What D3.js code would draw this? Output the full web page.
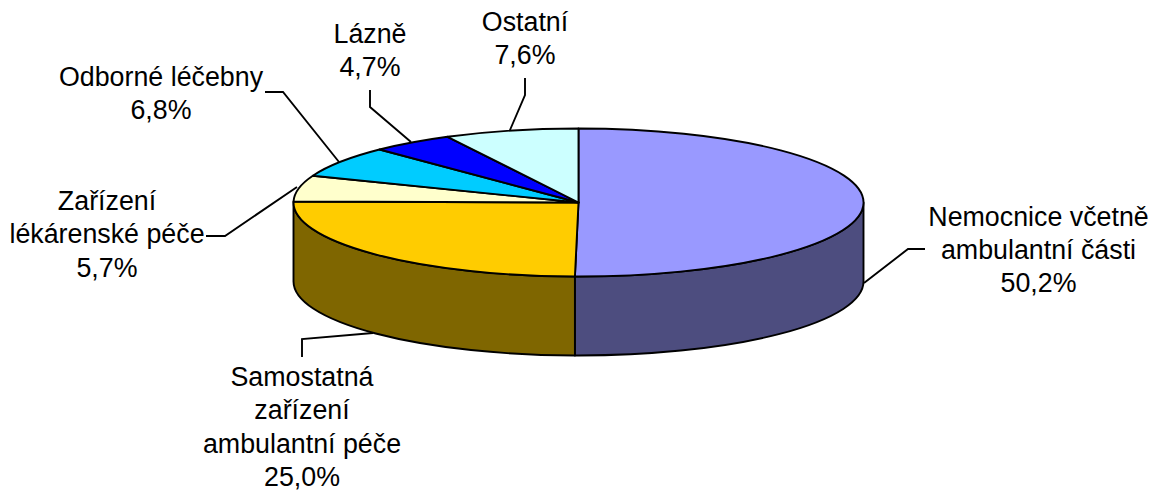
<!DOCTYPE html>
<html>
<head>
<meta charset="utf-8">
<script src="https://cdn.jsdelivr.net/npm/d3@7"></script>
<style>
    html, body { margin: 0; padding: 0; background: #fff; }
    svg { display: block; }
    text { font-family: "Liberation Sans", Arial, sans-serif; font-size: 26.8px; fill: #000; text-anchor: middle; }
</style>
</head>
<body>
<svg id="chart" width="1157" height="490"></svg>
<script>
const categories = [
    ["Nemocnice včetně", "ambulantní části"],
    ["Samostatná", "zařízení", "ambulantní péče"],
    ["Zařízení", "lékárenské péče"],
    ["Odborné léčebny"],
    ["Lázně"],
    ["Ostatní"]
]
const shares = [50.2, 25.0, 5.7, 6.8, 4.7, 7.6]
const shareLabels = ["50,2%", "25,0%", "5,7%", "6,8%", "4,7%", "7,6%"]
const topColors = ["#9999ff", "#ffcc00", "#ffffcc", "#00ccff", "#0000ff", "#ccffff"]
const sideColors = ["#4d4d7f", "#7f6600", "#7f7f66", "#00667f", "#00007f", "#667f7f"]

const cx = 578.5, cy = 202.5, rx = 285, ry = 74, depth = 79, lineGap = 33.3

// label block centre + first baseline, and the leader polyline for each slice
const labelPos = [
    {x: 1038.5, y: 225.5}, {x: 302, y: 386}, {x: 107, y: 210},
    {x: 161, y: 85.5}, {x: 370, y: 43}, {x: 525, y: 31}
]
const leaders = [
    [[864, 283], [908, 249], [925, 249]],
    [[373, 333], [302, 339], [302, 357]],
    [[297, 187], [225, 236], [206, 236]],
    [[339, 162], [283, 92], [265, 92]],
    [[411, 142], [370, 107], [370, 90]],
    [[510, 130], [525, 95], [525, 78]]
]

const svg = d3.select("#chart")

const slices = d3.pie().sort(null).value(d => d)(shares)
const arc = d3.arc().innerRadius(0).outerRadius(rx)
const pointAt = angle => [cx + rx * Math.sin(angle), cy - ry * Math.cos(angle)]

// Side wall, only the part facing the viewer (90deg to 270deg)
function wallPath(slice) {
    let a0 = Math.max(slice.startAngle, Math.PI / 2),
        a1 = Math.min(slice.endAngle, Math.PI * 1.5)
    if (a0 >= a1) return null
    let p0 = pointAt(a0), p1 = pointAt(a1)
    return `M${p0[0]},${p0[1]}`
        + `A${rx},${ry} 0 0 1 ${p1[0]},${p1[1]}`
        + `L${p1[0]},${p1[1] + depth}`
        + `A${rx},${ry} 0 0 0 ${p0[0]},${p0[1] + depth}Z`
}

svg.append("g")
    .selectAll("path")
    .data(leaders)
    .join("path")
    .attr("d", d3.line())
    .style("fill", "none")
    .style("stroke", "#000")
    .style("stroke-width", 1.9)

svg.append("g")
    .selectAll("path")
    .data(slices.filter(wallPath))
    .join("path")
    .attr("d", wallPath)
    .style("fill", d => sideColors[d.index])
    .style("stroke", "#000")
    .style("stroke-width", 1.9)
    .style("stroke-linejoin", "round")

svg.append("g")
    .attr("transform", `translate(${cx}, ${cy}) scale(1, ${ry / rx})`)
    .selectAll("path")
    .data(slices)
    .join("path")
    .attr("d", arc)
    .attr("vector-effect", "non-scaling-stroke")
    .style("fill", d => topColors[d.index])
    .style("stroke", "#000")
    .style("stroke-width", 1.9)
    .style("stroke-linejoin", "round")

let labels = svg.append("g")
    .selectAll("text")
    .data(categories)
    .join("text")
    .attr("transform", (d, i) => `translate(${labelPos[i].x}, ${labelPos[i].y})`)

labels.selectAll("tspan")
    .data((d, i) => d.concat(shareLabels[i]))
    .join("tspan")
    .attr("x", 0)
    .attr("y", (d, i) => i * lineGap)
    .text(d => d)
</script>
</body>
</html>
